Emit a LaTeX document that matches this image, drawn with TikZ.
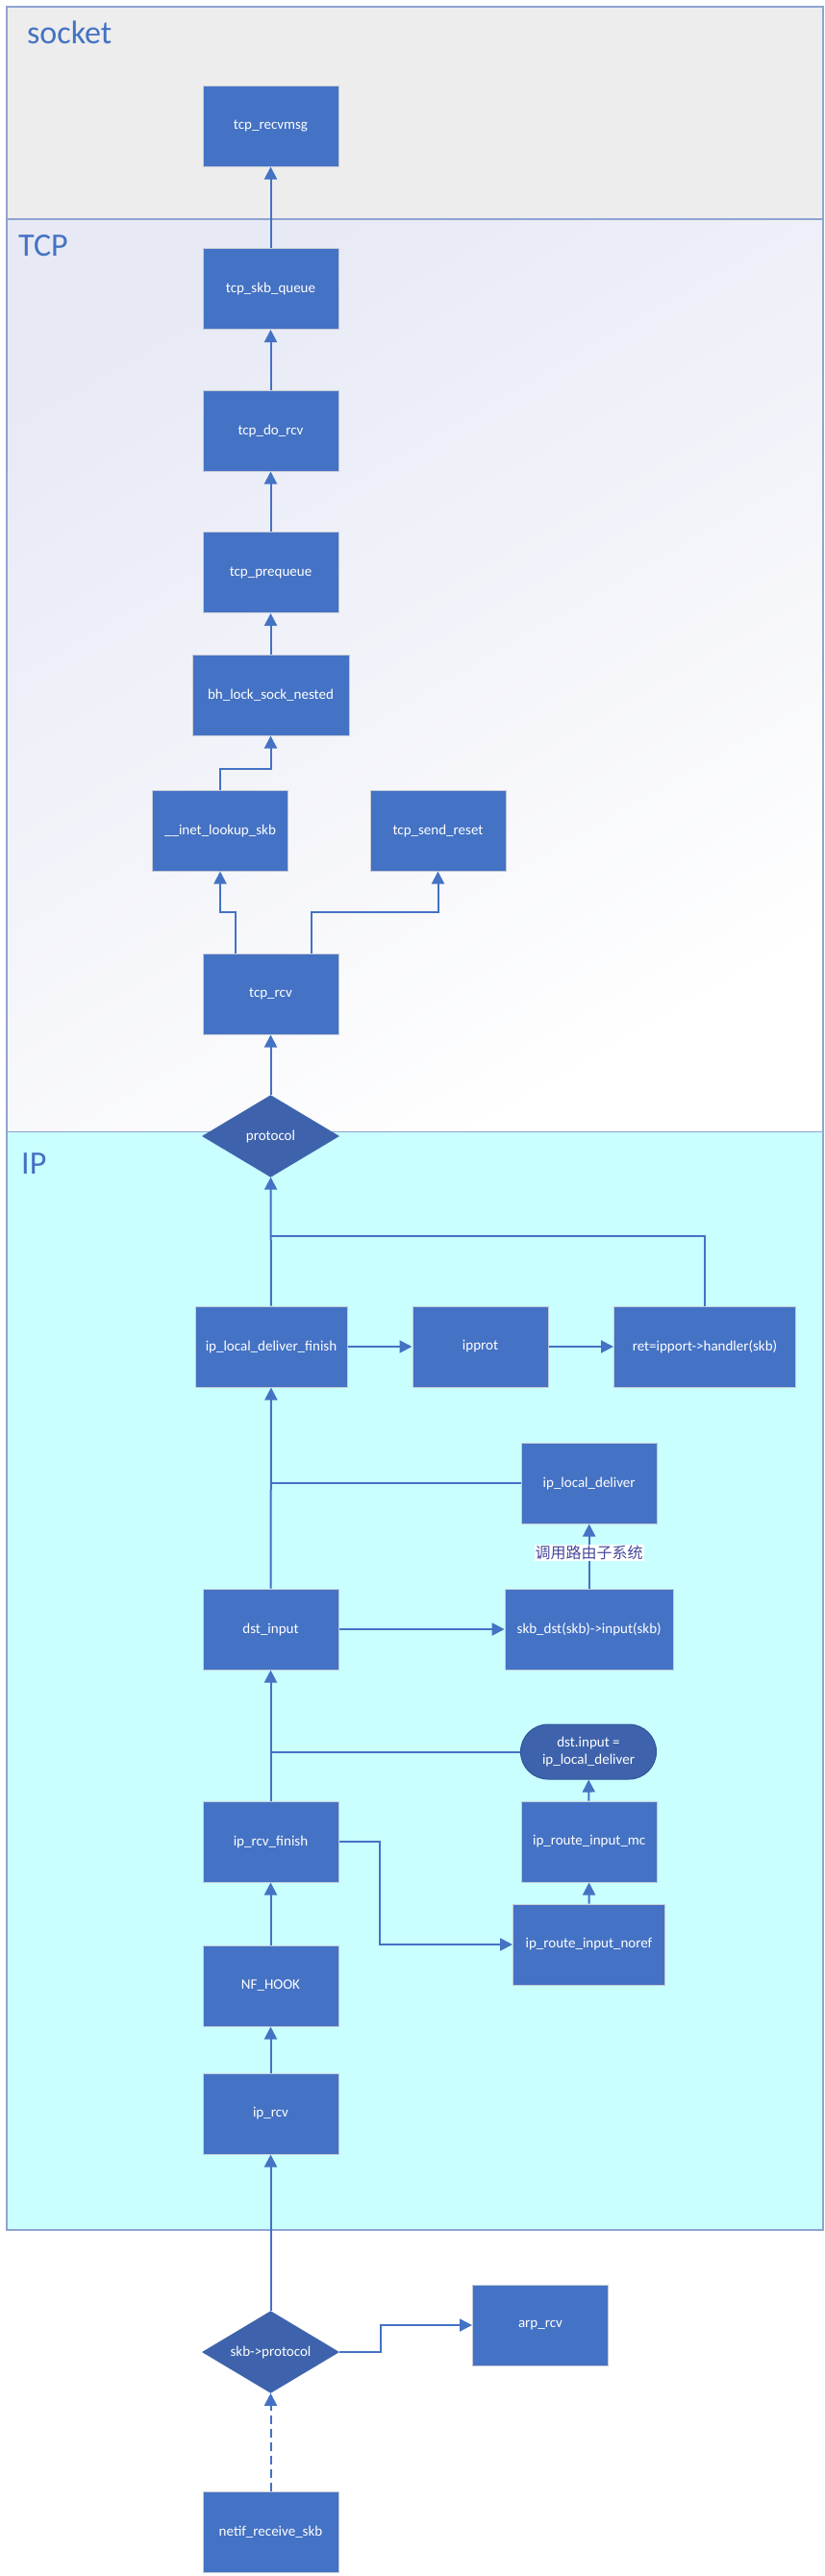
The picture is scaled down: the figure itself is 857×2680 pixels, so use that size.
\documentclass[tikz,border=0pt]{standalone}
\usepackage{fontspec}
\setmainfont{Carlito}
\newfontfamily\cjk{Noto Sans CJK SC}
\usetikzlibrary{arrows.meta,shapes.geometric,shapes.misc,calc}
\definecolor{boxblue}{HTML}{4472C4}
\definecolor{darkblue}{HTML}{3E63AC}
\definecolor{darkborder}{HTML}{2F5597}
\definecolor{boxborder}{HTML}{C5CAD6}
\definecolor{panelborder}{HTML}{8EA3D1}
\definecolor{socketfill}{HTML}{EDEDED}
\definecolor{tcpfill}{HTML}{E7E9F5}
\definecolor{ipfill}{HTML}{C9FFFF}
\definecolor{cnlabel}{HTML}{44489A}
\tikzset{
  fbox/.style={draw=boxborder, line width=1pt, fill=boxblue, minimum width=141pt,
    minimum height=84pt, inner sep=0pt, text=white, font=\fontsize{15}{18}\selectfont},
  decide/.style={diamond, draw=darkblue, line width=0.5pt, fill=darkblue, minimum width=142pt,
    minimum height=85pt, aspect=1.67, inner sep=0pt, text=white, font=\fontsize{15}{18}\selectfont},
  roundbox/.style={rounded rectangle, draw=darkborder, line width=1pt, fill=darkblue,
    minimum width=141pt, minimum height=57pt, inner sep=0pt, text=white, align=center,
    font=\fontsize{15}{18.5}\selectfont},
  conn/.style={draw=boxblue, line width=2pt},
  arr/.style={conn, -{Triangle[length=13pt,width=13pt]}},
  panellabel/.style={anchor=base west, text=boxblue, inner sep=0pt, font=\fontsize{34}{40}\selectfont},
}
\begin{document}
\begin{tikzpicture}[x=1pt,y=-1pt]
\useasboundingbox (0,0) rectangle (857,2680);
\fill[white] (0,0) rectangle (857,2680);
% panels
\fill[socketfill] (7,7) rectangle (856,228);
\shade[top color=tcpfill, bottom color=white, shading angle=30] (7,228) rectangle (856,1177.5);
\fill[ipfill] (7,1177.5) rectangle (856,2320);
\draw[panelborder, line width=1.2pt] (7,7) rectangle (856,228);
\draw[panelborder, line width=1.2pt] (7,228) rectangle (856,1177.5);
\draw[panelborder, line width=1.2pt] (7,1177.5) rectangle (856,2320);
\node[panellabel] (lsocket) at (28,45) {socket};
\node[panellabel] (ltcp) at (19,266.7) {TCP};
\node[panellabel] (lip) at (22,1221.7) {IP};

% nodes
\node[fbox] (recvmsg) at (281.5,131) {tcp\_recvmsg};
\node[fbox] (skbq) at (281.5,300.5) {tcp\_skb\_queue};
\node[fbox] (dorcv) at (281.5,448) {tcp\_do\_rcv};
\node[fbox] (preq) at (281.5,595.5) {tcp\_prequeue};
\node[fbox, minimum width=163pt] (bh) at (281.5,723) {bh\_lock\_sock\_nested};
\node[fbox] (inet) at (229,864) {\_\_inet\_lookup\_skb};
\node[fbox] (reset) at (455.5,864) {tcp\_send\_reset};
\node[fbox] (tcprcv) at (281.5,1034) {tcp\_rcv};
\node[decide] (proto) at (281.5,1182) {protocol};
\node[fbox, minimum width=158pt] (ldf) at (282,1401) {ip\_local\_deliver\_finish};
\node[fbox] (ipprot) at (499.5,1401) {ipprot};
\node[fbox, minimum width=189pt] (ret) at (733,1401) {ret=ipport->handler(skb)};
\node[fbox] (ld) at (612.7,1543) {ip\_local\_deliver};
\node[fbox] (dst) at (281.5,1695) {dst\_input};
\node[fbox, minimum width=175pt] (skbdst) at (612.7,1695) {skb\_dst(skb)->input(skb)};
\node[roundbox] (dstin) at (612,1822.5) {dst.input =\\ip\_local\_deliver};
\node[fbox] (rcvfin) at (281.5,1916) {ip\_rcv\_finish};
\node[fbox] (mc) at (612.7,1916) {ip\_route\_input\_mc};
\node[fbox, minimum width=158pt] (noref) at (612.5,2023) {ip\_route\_input\_noref};
\node[fbox] (nfhook) at (281.5,2066) {NF\_HOOK};
\node[fbox] (iprcv) at (281.5,2199) {ip\_rcv};
\node[decide] (skbproto) at (281.5,2447) {skb->protocol};
\node[fbox] (arp) at (562,2419) {arp\_rcv};
\node[fbox] (netif) at (281.5,2634) {netif\_receive\_skb};

% connectors
\draw[arr] (skbq) -- (recvmsg);
\draw[arr] (dorcv) -- (skbq);
\draw[arr] (preq) -- (dorcv);
\draw[arr] (bh) -- (preq);
\draw[arr] (inet.north) -- ++(0,-22) -| (bh.south);
\draw[arr] ($(tcprcv.north)+(-36.8,0)$) |- ($(inet.south)+(0,42.6)$) -- (inet.south);
\draw[arr] ($(tcprcv.north)+(42.5,0)$) |- ($(reset.south)+(0,42.6)$) -- (reset.south);
\draw[arr] (proto) -- (tcprcv);
\draw[arr] (ldf) -- (proto);
\draw[conn] (ret.north) |- (281.5,1286);
\draw[arr] (ldf) -- (ipprot);
\draw[arr] (ipprot) -- (ret);
\draw[arr] (dst) -- (ldf);
\draw[conn] (ld.west) -- (281.5,1543);
\draw[arr] (skbdst) -- node[fill=white, inner sep=1pt, text=cnlabel, font=\cjk\fontsize{16}{18}\selectfont, pos=0.55] (cn) {调用路由子系统} (ld);
\draw[arr] (dst) -- (skbdst);
\draw[arr] (rcvfin) -- (dst);
\draw[conn] (dstin.west) -- (281.5,1822.5);
\draw[arr] (mc) -- (dstin);
\draw[arr] (noref) -- (mc);
\draw[arr] (rcvfin.east) -- ++(42.9,0) |- (noref.west);
\draw[arr] (nfhook) -- (rcvfin);
\draw[arr] (iprcv) -- (nfhook);
\draw[arr] (skbproto) -- (iprcv);
\draw[arr] (skbproto.east) -- ++(42.9,0) |- (arp.west);
\draw[arr, dash pattern=on 9pt off 5pt] (netif) -- (skbproto);
\end{tikzpicture}
\end{document}
